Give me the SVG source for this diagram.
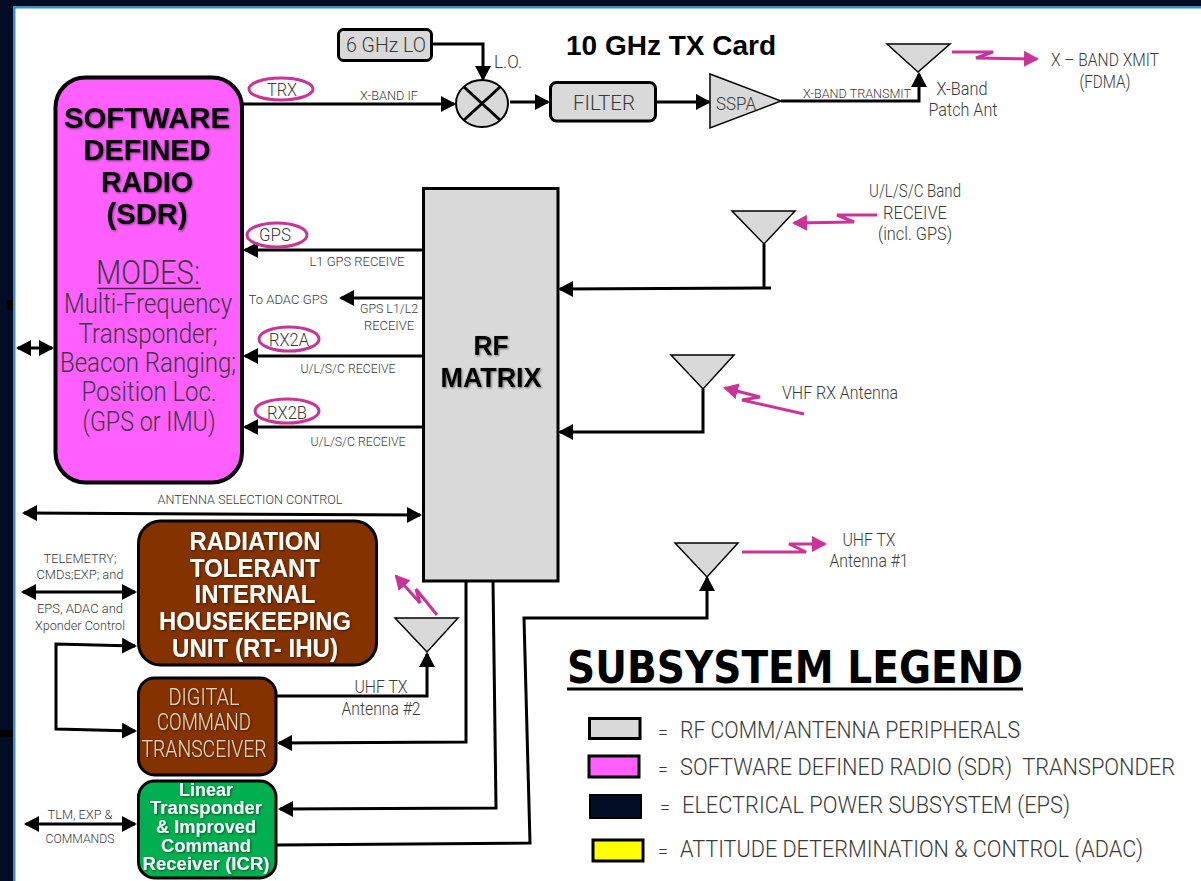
<svg xmlns="http://www.w3.org/2000/svg" width="1201" height="881" viewBox="0 0 1201 881">
<style>
text{font-family:Roboto,"Liberation Sans",Arial,sans-serif;font-weight:300;fill:#3a3a3a;text-anchor:middle;dominant-baseline:central}
.s{font-size:13px}.m{font-size:18px}.l{font-size:21px}.g{font-size:24px}
.b{font-family:"Liberation Sans",Arial,sans-serif;font-weight:700;fill:#000}
.sh{filter:url(#ts)}
.w{fill:#fff}
.t{fill:#e6d5c5;font-size:24px}
.c{fill:none;stroke:#000;stroke-width:3}
.e{marker-end:url(#a)}.d{marker-end:url(#a);marker-start:url(#a)}
.p{fill:none;stroke:#cc3399;stroke-width:3;marker-end:url(#pa)}
.o{fill:none;stroke:#cc3399;stroke-width:3}
.ant{fill:#d9d9d9;stroke:#000;stroke-width:1.500}
.gr{fill:#d9d9d9;stroke:#000;stroke-width:3}
.br{fill:#843200;stroke:#000;stroke-width:3}
</style>
<defs>
<marker id="a" markerUnits="userSpaceOnUse" markerWidth="15" markerHeight="16" refX="13" refY="8" orient="auto-start-reverse"><path d="M0 0L15 8L0 16z" fill="#000"/></marker>
<marker id="pa" markerUnits="userSpaceOnUse" markerWidth="15" markerHeight="16" refX="13" refY="8" orient="auto-start-reverse"><path d="M0 0L15 8L0 16z" fill="#cc3399"/></marker>
<filter id="ts" x="-10%" y="-20%" width="120%" height="150%"><feDropShadow dx="1" dy="1" stdDeviation="0.8" flood-color="#000" flood-opacity="0.5"/></filter>
</defs>
<rect width="1201" height="881" fill="#fff"/>
<g id="frame">
<rect width="1201" height="6" fill="#020c24"/><rect width="13" height="881" fill="#020c24"/>
<rect x="13" y="6" width="1188" height="2.500" fill="#3a8fc8"/><rect x="13" y="6" width="2.500" height="875" fill="#3a8fc8"/>
<rect x="7" y="300" width="6" height="10" fill="#000"/><rect x="0" y="730" width="13" height="7" fill="#000"/>
</g>
<g id="connectors">
<path class="c e" d="M432 44H483V79"/>
<path class="c e" d="M242 104H454"/>
<path class="c e" d="M510 102H548"/>
<path class="c e" d="M657 102H709"/>
<path class="c e" d="M781 101H919V74"/>
<path class="c e" d="M423 250H245"/>
<path class="c e" d="M423 298H341"/>
<path class="c e" d="M423 356H245"/>
<path class="c e" d="M423 427H245"/>
<path class="c d" d="M18 348H52"/>
<path class="c" d="M764 244V288"/>
<path class="c e" d="M771 288L560 289"/>
<path class="c e" d="M703 389V432H560"/>
<path class="c d" d="M24 513L420 515"/>
<path class="c d" d="M23 592H135"/>
<path class="c d" d="M135 646L56 644V729L135 731"/>
<path class="c e" d="M276 696H427V654"/>
<path class="c e" d="M466 581V742L279 743"/>
<path class="c e" d="M493 581L496 808L280 809"/>
<path class="c d" d="M26 824H135"/>
<path class="c e" d="M277 845L530 843L524 618H707V578"/>
<path class="p" d="M952 52H993L976 58L1037 59"/>
<path class="p" d="M877 215H837L854 222L794 223"/>
<path class="p" d="M804 414L742 400L760 397L725 388"/>
<path class="p" d="M437 615L416 589L420 603L396 576"/>
<path class="p" d="M742 552H806L789 544H825"/>
</g>
<g id="lo"><rect class="gr" x="338.500" y="29.500" width="93" height="31" rx="5"/><text class="l" x="386" y="45" textLength="80" lengthAdjust="spacingAndGlyphs">6 GHz LO</text></g>
<text class="m" x="508" y="61" textLength="28" lengthAdjust="spacingAndGlyphs">L.O.</text>
<text class="b" x="671" y="45" font-size="28" textLength="210" lengthAdjust="spacingAndGlyphs">10 GHz TX Card</text>
<g id="mixer"><ellipse cx="482" cy="103.500" rx="26" ry="23.500" fill="#d9d9d9" stroke="#000" stroke-width="2"/><path class="c" d="M464 87L500 120M500 87L464 120"/></g>
<g id="filter"><rect class="gr" x="550.500" y="82.500" width="105" height="38.500" rx="6"/><text class="l" x="604" y="103" textLength="62" lengthAdjust="spacingAndGlyphs">FILTER</text></g>
<g id="sspa"><path class="ant" d="M710 74L781 101L710 128z"/><text class="m" x="736" y="103" textLength="40" lengthAdjust="spacingAndGlyphs">SSPA</text></g>
<text class="s" x="857" y="93" textLength="108" lengthAdjust="spacingAndGlyphs">X-BAND TRANSMIT</text>
<text class="s" x="389" y="95" textLength="58" lengthAdjust="spacingAndGlyphs">X-BAND IF</text>
<g id="x-antenna"><path class="ant" d="M887 44H950L918 72z"/><text class="m" x="962" y="88" textLength="51" lengthAdjust="spacingAndGlyphs">X-Band</text><text class="m" x="963" y="109" textLength="69" lengthAdjust="spacingAndGlyphs">Patch Ant</text></g>
<text class="m" x="1105" y="59" textLength="108" lengthAdjust="spacingAndGlyphs">X – BAND XMIT</text>
<text class="m" x="1105" y="81" textLength="51" lengthAdjust="spacingAndGlyphs">(FDMA)</text>
<g id="sdr"><rect x="55.500" y="77.500" width="186.500" height="405" rx="30" fill="#ff5fff" stroke="#000" stroke-width="4"/>
<g class="sh"><text class="b" font-size="30" x="147" y="117.500" textLength="166" lengthAdjust="spacingAndGlyphs">SOFTWARE</text>
<text class="b" font-size="30" x="147" y="149.500" textLength="127" lengthAdjust="spacingAndGlyphs">DEFINED</text>
<text class="b" font-size="30" x="147" y="181.500" textLength="92" lengthAdjust="spacingAndGlyphs">RADIO</text>
<text class="b" font-size="30" x="147" y="213.500" textLength="81" lengthAdjust="spacingAndGlyphs">(SDR)</text></g>
<text font-size="34" x="148" y="272" textLength="104" lengthAdjust="spacingAndGlyphs">MODES:</text><path d="M97 288.500H201" stroke="#333" stroke-width="1.500"/>
<text font-size="27" x="148" y="304" textLength="168" lengthAdjust="spacingAndGlyphs">Multi-Frequency</text>
<text font-size="27" x="148" y="334" textLength="139" lengthAdjust="spacingAndGlyphs">Transponder;</text>
<text font-size="27" x="148" y="363" textLength="176" lengthAdjust="spacingAndGlyphs">Beacon Ranging;</text>
<text font-size="27" x="149" y="392" textLength="135" lengthAdjust="spacingAndGlyphs">Position Loc.</text>
<text font-size="27" x="149" y="422" textLength="133" lengthAdjust="spacingAndGlyphs">(GPS or IMU)</text></g>
<g id="tag-trx"><ellipse class="o" cx="281" cy="89" rx="32" ry="11"/><text class="m" x="282" y="89" textLength="30" lengthAdjust="spacingAndGlyphs">TRX</text></g>
<g id="tag-gps"><ellipse class="o" cx="277" cy="235" rx="30" ry="12"/><text class="m" x="275" y="234" textLength="32" lengthAdjust="spacingAndGlyphs">GPS</text></g>
<g id="tag-rx2a"><ellipse class="o" cx="289" cy="339" rx="30" ry="12"/><text class="m" x="289" y="339" textLength="40" lengthAdjust="spacingAndGlyphs">RX2A</text></g>
<g id="tag-rx2b"><ellipse class="o" cx="287" cy="411" rx="32" ry="12"/><text class="m" x="287" y="412" textLength="40" lengthAdjust="spacingAndGlyphs">RX2B</text></g>
<text class="s" x="357" y="261" textLength="95" lengthAdjust="spacingAndGlyphs">L1 GPS RECEIVE</text>
<text class="s" x="288" y="299" textLength="79" lengthAdjust="spacingAndGlyphs">To ADAC GPS</text>
<text class="s" x="389" y="308" textLength="58" lengthAdjust="spacingAndGlyphs">GPS L1/L2</text>
<text class="s" x="389" y="325" textLength="50" lengthAdjust="spacingAndGlyphs">RECEIVE</text>
<text class="s" x="348" y="368" textLength="95" lengthAdjust="spacingAndGlyphs">U/L/S/C RECEIVE</text>
<text class="s" x="358" y="441" textLength="95" lengthAdjust="spacingAndGlyphs">U/L/S/C RECEIVE</text>
<g id="rf-matrix"><rect class="gr" x="423.500" y="188.500" width="134.500" height="392.500"/>
<g class="sh"><text class="b" font-size="28" x="491" y="345" textLength="35" lengthAdjust="spacingAndGlyphs">RF</text><text class="b" font-size="28" x="491" y="377" textLength="101" lengthAdjust="spacingAndGlyphs">MATRIX</text></g></g>
<g id="band-antenna"><path class="ant" d="M732 211H795L764 244z"/></g>
<text class="m" x="915" y="190" textLength="92" lengthAdjust="spacingAndGlyphs">U/L/S/C Band</text>
<text class="m" x="915" y="212" textLength="64" lengthAdjust="spacingAndGlyphs">RECEIVE</text>
<text class="m" x="915" y="233" textLength="74" lengthAdjust="spacingAndGlyphs">(incl. GPS)</text>
<g id="vhf-antenna"><path class="ant" d="M671 355H734L703 389z"/></g>
<text class="m" x="840" y="392" textLength="116" lengthAdjust="spacingAndGlyphs">VHF RX Antenna</text>
<text class="s" x="250" y="499" textLength="185" lengthAdjust="spacingAndGlyphs">ANTENNA SELECTION CONTROL</text>
<g id="rt-ihu"><rect class="br" x="138.500" y="521" width="238" height="144" rx="22"/>
<g class="sh"><text class="b w" font-size="25" x="255" y="541" textLength="131" lengthAdjust="spacingAndGlyphs">RADIATION</text>
<text class="b w" font-size="25" x="255" y="568" textLength="130" lengthAdjust="spacingAndGlyphs">TOLERANT</text>
<text class="b w" font-size="25" x="255" y="594" textLength="121" lengthAdjust="spacingAndGlyphs">INTERNAL</text>
<text class="b w" font-size="25" x="255" y="621" textLength="192" lengthAdjust="spacingAndGlyphs">HOUSEKEEPING</text>
<text class="b w" font-size="25" x="255" y="648" textLength="166" lengthAdjust="spacingAndGlyphs">UNIT (RT- IHU)</text></g></g>
<text class="s" x="80" y="558" textLength="73" lengthAdjust="spacingAndGlyphs">TELEMETRY;</text>
<text class="s" x="80" y="574" textLength="87" lengthAdjust="spacingAndGlyphs">CMDs;EXP; and</text>
<text class="s" x="80" y="608" textLength="86" lengthAdjust="spacingAndGlyphs">EPS, ADAC and</text>
<text class="s" x="80" y="625" textLength="90" lengthAdjust="spacingAndGlyphs">Xponder Control</text>
<g id="dct"><rect class="br" x="138.500" y="678" width="137.500" height="97" rx="16"/>
<g class="sh"><text class="t" x="204" y="697" textLength="71" lengthAdjust="spacingAndGlyphs">DIGITAL</text>
<text class="t" x="204" y="722" textLength="94" lengthAdjust="spacingAndGlyphs">COMMAND</text>
<text class="t" x="204" y="749" textLength="125" lengthAdjust="spacingAndGlyphs">TRANSCEIVER</text></g></g>
<g id="uhf2-antenna"><path class="ant" d="M395 618H458L427 652z"/></g>
<text class="m" x="381" y="686" textLength="53" lengthAdjust="spacingAndGlyphs">UHF TX</text>
<text class="m" x="381" y="708" textLength="79" lengthAdjust="spacingAndGlyphs">Antenna #2</text>
<g id="icr"><rect x="138.500" y="781" width="137.500" height="97" rx="16" fill="#00b050" stroke="#000" stroke-width="3"/>
<g class="sh"><text class="b w" font-size="18" x="206" y="790" textLength="54" lengthAdjust="spacingAndGlyphs">Linear</text>
<text class="b w" font-size="18" x="206" y="808" textLength="112" lengthAdjust="spacingAndGlyphs">Transponder</text>
<text class="b w" font-size="18" x="206" y="827" textLength="100" lengthAdjust="spacingAndGlyphs">&amp; Improved</text>
<text class="b w" font-size="18" x="206" y="846" textLength="90" lengthAdjust="spacingAndGlyphs">Command</text>
<text class="b w" font-size="18" x="206" y="864" textLength="127" lengthAdjust="spacingAndGlyphs">Receiver (ICR)</text></g></g>
<text class="s" x="80" y="814" textLength="65" lengthAdjust="spacingAndGlyphs">TLM, EXP &amp;</text>
<text class="s" x="80" y="838" textLength="69" lengthAdjust="spacingAndGlyphs">COMMANDS</text>
<g id="uhf1-antenna"><path class="ant" d="M675 543H738L707 577z"/></g>
<text class="m" x="869" y="539" textLength="53" lengthAdjust="spacingAndGlyphs">UHF TX</text>
<text class="m" x="869" y="560" textLength="79" lengthAdjust="spacingAndGlyphs">Antenna #1</text>
<g id="legend">
<text font-size="44" x="795" y="667" textLength="456" lengthAdjust="spacingAndGlyphs" style="font-family:'DejaVu Sans',sans-serif;font-weight:700;fill:#000">SUBSYSTEM LEGEND</text>
<path d="M567 689H1023" stroke="#000" stroke-width="3"/>
<rect class="gr" x="589.500" y="718.500" width="50.500" height="20"/>
<rect x="589" y="756" width="50" height="21" fill="#ff5fff" stroke="#000" stroke-width="3"/>
<rect x="590" y="795" width="51" height="23" fill="#020c24" stroke="#000" stroke-width="2"/>
<rect x="593" y="840" width="50" height="21" fill="#ffff00" stroke="#000" stroke-width="3"/>
<text class="m" x="663" y="732">=</text><text class="m" x="663" y="769">=</text><text class="m" x="665" y="807">=</text><text class="m" x="663" y="851">=</text>
<text class="g" x="850" y="730" textLength="340" lengthAdjust="spacingAndGlyphs">RF COMM/ANTENNA PERIPHERALS</text>
<text class="g" x="927.500" y="767" textLength="495" lengthAdjust="spacingAndGlyphs" style="white-space:pre">SOFTWARE DEFINED RADIO (SDR)  TRANSPONDER</text>
<text class="g" x="876" y="805" textLength="388" lengthAdjust="spacingAndGlyphs">ELECTRICAL POWER SUBSYSTEM (EPS)</text>
<text class="g" x="911.500" y="849" textLength="463" lengthAdjust="spacingAndGlyphs">ATTITUDE DETERMINATION &amp; CONTROL (ADAC)</text>
</g>
</svg>
